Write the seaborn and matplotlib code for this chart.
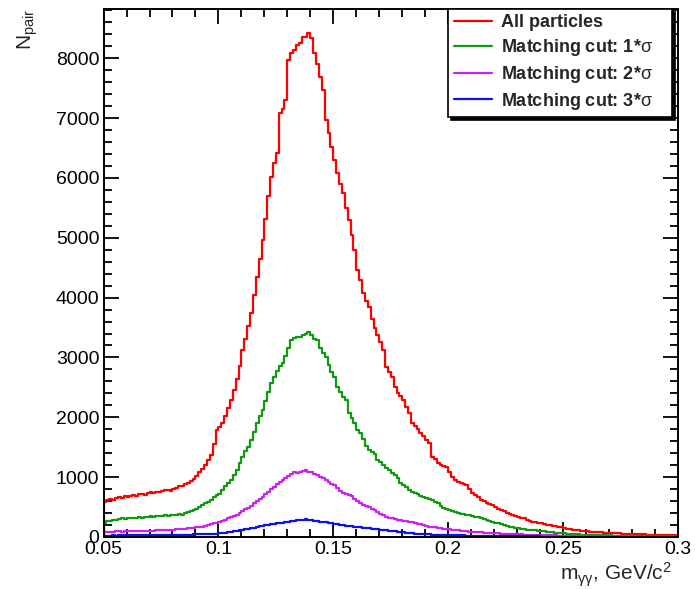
import numpy as np
import pandas as pd
import matplotlib
matplotlib.use("Agg")
import matplotlib.pyplot as plt
from matplotlib.lines import Line2D
from matplotlib.ticker import MultipleLocator, FuncFormatter
import seaborn as sns

# Invariant-mass histogram: 200 bins between 0.05 and 0.30 GeV/c^2
x_min, x_max, n_bins = 0.05, 0.30, 200

all_particles = [
    590, 610, 640, 625, 655, 665, 650, 680, 670, 690,
    700, 690, 715, 720, 705, 730, 745, 735, 760, 750,
    770, 780, 790, 775, 810, 820, 850, 845, 880, 900,
    940, 975, 1020, 1080, 1140, 1200, 1280, 1370, 1560, 1790,
    1830, 1900, 2020, 2150, 2290, 2450, 2640, 2850, 3120, 3300,
    3530, 3740, 4050, 4350, 4650, 4960, 5320, 5700, 6020, 6250,
    6410, 7080, 7150, 7300, 7970, 8080, 8130, 8220, 8260, 8360,
    8350, 8415, 8340, 8080, 7900, 7690, 7470, 6970, 6750, 6520,
    6300, 6080, 5900, 5750, 5500, 5300, 5050, 4800, 4460, 4300,
    4070, 3950, 3850, 3650, 3500, 3380, 3250, 3120, 2840, 2760,
    2670, 2500, 2400, 2350, 2290, 2180, 2070, 1900, 1850, 1800,
    1740, 1690, 1620, 1570, 1340, 1300, 1240, 1210, 1190, 1170,
    1080, 1000, 950, 920, 900, 880, 870, 810, 735, 700,
    660, 620, 600, 575, 555, 535, 500, 470, 450, 430,
    400, 385, 370, 350, 335, 320, 315, 290, 270, 250,
    245, 235, 230, 215, 205, 195, 185, 180, 170, 160,
    150, 140, 130, 125, 115, 110, 105, 100, 95, 90,
    88, 85, 82, 80, 75, 72, 68, 65, 62, 60,
    58, 55, 52, 50, 48, 46, 45, 43, 42, 40,
    38, 37, 36, 35, 34, 33, 32, 31, 30, 30,
]

cut_1sigma = [
    240, 265, 270, 285, 290, 300, 310, 305, 315, 320,
    315, 325, 330, 320, 335, 340, 345, 335, 350, 345,
    355, 360, 350, 365, 370, 375, 380, 370, 395, 410,
    430, 450, 470, 500, 535, 560, 590, 620, 675, 700,
    720, 790, 850, 900, 960, 1030, 1120, 1240, 1330, 1430,
    1510, 1620, 1750, 1900, 2020, 2120, 2280, 2420, 2570, 2680,
    2770, 2850, 2900, 3020, 3150, 3290, 3320, 3340, 3350, 3380,
    3400, 3430, 3370, 3310, 3290, 3150, 3080, 3010, 2880, 2760,
    2680, 2510, 2420, 2340, 2290, 2070, 1990, 1900, 1790, 1740,
    1640, 1520, 1450, 1420, 1380, 1290, 1250, 1210, 1160, 1120,
    1070, 1030, 980, 900, 870, 830, 790, 760, 735, 710,
    690, 670, 650, 630, 620, 590, 560, 520, 490, 460,
    450, 430, 420, 400, 390, 380, 370, 360, 350, 340,
    330, 315, 300, 285, 270, 255, 240, 230, 215, 200,
    185, 170, 165, 155, 150, 140, 130, 125, 120, 115,
    110, 105, 100, 95, 90, 85, 80, 75, 72, 68,
    64, 58, 52, 50, 46, 42, 40, 38, 35, 34,
    32, 30, 29, 28, 27, 26, 25, 24, 23, 22,
    21, 21, 20, 20, 19, 19, 18, 18, 17, 17,
    16, 16, 15, 15, 14, 14, 13, 13, 12, 12,
]

cut_2sigma = [
    80, 85, 90, 88, 92, 95, 90, 98, 96, 100,
    98, 102, 100, 104, 103, 106, 105, 108, 110, 112,
    115, 112, 118, 120, 125, 128, 130, 135, 140, 145,
    150, 155, 160, 168, 175, 185, 200, 215, 230, 240,
    255, 270, 290, 310, 330, 355, 375, 400, 430, 460,
    485, 520, 560, 600, 640, 675, 720, 760, 800, 840,
    880, 925, 960, 990, 1020, 1060, 1085, 1070, 1090, 1100,
    1120, 1090, 1080, 1060, 1030, 1010, 980, 950, 920, 890,
    870, 820, 770, 740, 720, 700, 680, 640, 600, 565,
    540, 520, 500, 470, 450, 420, 390, 360, 340, 320,
    315, 305, 290, 280, 270, 265, 258, 255, 240, 225,
    210, 200, 190, 175, 170, 165, 155, 150, 140, 135,
    130, 125, 120, 112, 105, 100, 95, 90, 86, 82,
    80, 78, 75, 72, 70, 67, 62, 60, 57, 55,
    52, 50, 48, 46, 44, 42, 40, 38, 36, 34,
    32, 31, 30, 29, 28, 27, 26, 25, 24, 23,
    22, 21, 20, 19, 18, 18, 17, 16, 16, 15,
    15, 14, 14, 13, 13, 12, 12, 11, 11, 10,
    10, 10, 9, 9, 9, 8, 8, 8, 7, 7,
    7, 7, 6, 6, 6, 6, 5, 5, 5, 5,
]

cut_3sigma = [
    22, 24, 23, 25, 24, 26, 25, 27, 26, 28,
    27, 28, 29, 28, 30, 29, 31, 30, 32, 31,
    33, 32, 34, 35, 34, 36, 37, 38, 39, 40,
    41, 42, 44, 45, 47, 49, 51, 53, 55, 57,
    60, 65, 72, 80, 88, 95, 103, 112, 120, 128,
    137, 146, 155, 165, 178, 185, 195, 205, 212, 220,
    228, 235, 242, 250, 258, 265, 272, 278, 285, 290,
    295, 288, 280, 275, 268, 258, 252, 245, 238, 228,
    218, 210, 200, 195, 190, 185, 178, 172, 165, 160,
    155, 150, 145, 140, 135, 128, 120, 115, 110, 105,
    100, 95, 90, 85, 80, 75, 68, 62, 58, 54,
    50, 47, 44, 42, 40, 38, 36, 35, 33, 32,
    30, 29, 28, 27, 26, 25, 24, 23, 22, 21,
    20, 19, 18, 18, 17, 16, 16, 15, 14, 14,
    13, 13, 12, 12, 11, 11, 10, 10, 10, 9,
    9, 9, 8, 8, 8, 7, 7, 7, 7, 6,
    6, 6, 6, 5, 5, 5, 5, 5, 4, 4,
    4, 4, 4, 4, 3, 3, 3, 3, 3, 3,
    3, 3, 2, 2, 2, 2, 2, 2, 2, 2,
    2, 2, 2, 1, 1, 1, 1, 1, 1, 1,
]

series_labels = [
    "All particles",
    "Matching cut: 1*$\\mathrm{σ}$",
    "Matching cut: 2*$\\mathrm{σ}$",
    "Matching cut: 3*$\\mathrm{σ}$",
]
series_colors = ["#ff0000", "#109a10", "#cc22ee", "#0a14e6"]
series_counts = [all_particles, cut_1sigma, cut_2sigma, cut_3sigma]

sns.set_style("ticks")
plt.rcParams["font.family"] = ["Liberation Sans", "DejaVu Sans"]
plt.rcParams["mathtext.fontset"] = "custom"
plt.rcParams["mathtext.rm"] = "Liberation Sans"
plt.rcParams["mathtext.it"] = "Liberation Sans:italic"
plt.rcParams["mathtext.bf"] = "Liberation Sans:bold"

edges = np.linspace(x_min, x_max, n_bins + 1)


def step_outline(counts):
    """Histogram outline: bin edges with drops to zero at both ends."""
    xs = np.concatenate([[edges[0]], edges, [edges[-1]]])
    ys = np.concatenate([[0.0], counts, [counts[-1]], [0.0]])
    return xs, ys


frames = []
for lab, c in zip(series_labels, series_counts):
    xs, ys = step_outline(np.asarray(c, dtype=float))
    frames.append(pd.DataFrame({"mass": xs, "count": ys, "series": lab}))
df = pd.concat(frames, ignore_index=True)

fig = plt.figure(figsize=(6.95, 5.89), dpi=100)
ax = fig.add_axes([0.149, 0.0883, 0.8265, 0.8964])

sns.lineplot(
    data=df, x="mass", y="count", hue="series", hue_order=series_labels,
    palette=series_colors, estimator=None, sort=False, units="series",
    drawstyle="steps-post", linewidth=1.6, legend=False, ax=ax,
)

ax.set_xlim(x_min, x_max)
ax.set_ylim(0, 8822)

ax.xaxis.set_major_locator(MultipleLocator(0.05))
ax.xaxis.set_minor_locator(MultipleLocator(0.01))
ax.yaxis.set_major_locator(MultipleLocator(1000))
ax.yaxis.set_minor_locator(MultipleLocator(200))
ax.xaxis.set_major_formatter(FuncFormatter(lambda v, p: f"{v:g}"))

ax.tick_params(which="both", direction="in", top=True, right=True,
               width=1.3, colors="black", labelsize=14)
ax.tick_params(which="major", length=11, pad=3)
ax.tick_params(which="minor", length=5.5)
for sp in ax.spines.values():
    sp.set_linewidth(1.4)
    sp.set_color("black")

ax.set_ylabel("N$_{\\mathrm{pair}}$", loc="top", fontsize=15)
ax.yaxis.set_label_coords(-0.11, 1.0)
ax.set_xlabel("m$_{\\mathrm{γγ}}$, GeV/c$^{2}$", loc="right", fontsize=15)
ax.xaxis.set_label_coords(0.99, -0.045)

handles = [Line2D([], [], color=c, linewidth=1.6) for c in series_colors]
leg = ax.legend(
    handles, series_labels, loc="upper right",
    bbox_to_anchor=(0.600, 0.0, 0.390, 1.0), mode="expand",
    borderaxespad=0, frameon=True, fancybox=False, edgecolor="black",
    framealpha=1, shadow={"color": "black", "alpha": 1},
    prop={"weight": "bold", "size": 13}, handlelength=2.1,
    handletextpad=0.55, labelspacing=0.32, borderpad=0.3,
)
leg.get_frame().set_linewidth(1.2)

fig.savefig("out.png", dpi=100)
